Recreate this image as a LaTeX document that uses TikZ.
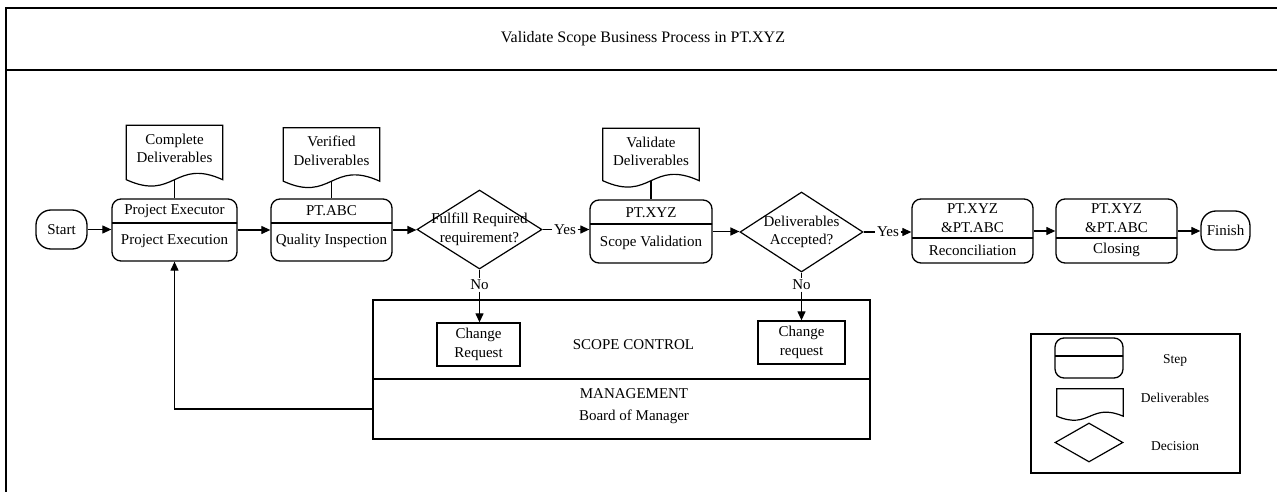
\documentclass[tikz,border=0pt]{standalone}
\usepackage{fontspec}
\setmainfont{Liberation Serif}
\usetikzlibrary{arrows.meta,shapes.geometric,calc}
\begin{document}
\begin{tikzpicture}[x=1pt,y=-1pt,
  every node/.style={font=\fontsize{15}{18.5}\selectfont, inner sep=0pt},
  box/.style={draw, line width=1.3pt, rounded corners=9pt},
  stepbox/.style={box, path picture={\draw[line width=1.3pt] (path picture bounding box.north west) ++(0,#1) -- ++(400,0);}},
  term/.style={draw, line width=1.3pt, rounded corners=15pt},
  plain/.style={draw, line width=1.3pt},
  dec/.style={draw, diamond, line width=1.2pt},
  doc/.style={minimum width=96pt, minimum height=46pt, align=center},
  lbl/.style={align=center, inner sep=0pt},
  conn/.style={line width=1.2pt},
  arr/.style={line width=1.2pt, -{Triangle[length=9pt,width=8pt]}},
  legtext/.style={font=\fontsize{13.5}{16}\selectfont},
  small/.style={inner sep=1.5pt}
]
\useasboundingbox (0,0) rectangle (1277,492);

% outer frame and title band
\draw[line width=2pt] (1279,8) -- (6,8) -- (6,494);
\draw[line width=1.6pt] (6,70) -- (1279,70);
\node[font=\fontsize{16}{19}\selectfont] (title) at (643,39) {Validate Scope Business Process in PT.XYZ};

% terminals
\node[term, minimum width=51pt, minimum height=39pt] (start) at (61.5,229.5) {Start};
\node[term, minimum width=49pt, minimum height=39pt] (fin) at (1225.5,230.5) {Finish};

% steps
\node[stepbox=24, minimum width=125pt, minimum height=62pt] (pe) at (174.5,230) {};
\node (pe1) at (174.5,211) {Project Executor};
\node (pe2) at (174.5,241) {Project Execution};

\node[stepbox=24, minimum width=121pt, minimum height=62pt] (qi) at (331.5,230) {};
\node (qi1) at (331.5,211) {PT.ABC};
\node (qi2) at (331.5,241) {Quality Inspection};

\node[stepbox=24, minimum width=122pt, minimum height=63pt] (sv) at (651,231.5) {};
\node (sv1) at (651,213) {PT.XYZ};
\node (sv2) at (651,243) {Scope Validation};

\node[stepbox=39, minimum width=121pt, minimum height=64pt] (rc) at (972.5,231) {};
\node[align=center] (rc1) at (972.5,218) {PT.XYZ\\\&PT.ABC};
\node (rc2) at (972.5,250) {Reconciliation};

\node[stepbox=39, minimum width=121pt, minimum height=64pt] (cl) at (1116.5,231) {};
\node[align=center] (cl1) at (1116.5,218) {PT.XYZ\\\&PT.ABC};
\node (cl2) at (1116.5,250) {Closing};

% deliverables
\node[doc] (d1) at (174.5,148.5) {Complete\\Deliverables};
\node[doc] (d2) at (331.5,151) {Verified\\Deliverables};
\node[doc] (d3) at (651,151.5) {Validate\\Deliverables};

% decisions
\node[dec, minimum width=125pt, minimum height=79pt,
      label={[lbl]center:Fulfill Required\\requirement?}] (dm1) at (479.5,229.5) {};
\node[dec, minimum width=123pt, minimum height=80pt,
      label={[lbl]center:Deliverables\\Accepted?}] (dm2) at (801.5,232) {};

\node[small] (yes1) at (565,229.5) {Yes};
\node[small] (yes2) at (888,232) {Yes};
\node[small] (no1) at (479.5,285) {No};
\node[small] (no2) at (801.5,285) {No};

% scope control / management
\node[plain, line width=1.6pt, minimum width=497pt, minimum height=79pt] (sc) at (621.5,339.5) {};
\node (sct) at (633.5,345) {SCOPE CONTROL};
\node[plain, line width=1.6pt, minimum width=497pt, minimum height=60pt] (mg) at (621.5,409) {};
\node[align=center, font=\fontsize{15}{22}\selectfont] (mgt) at (634,406) {MANAGEMENT\\Board of Manager};

\node[plain, minimum width=83pt, minimum height=43pt, align=center] (cr1) at (478.5,344.5) {Change\\Request};
\node[plain, minimum width=87pt, minimum height=43pt, align=center] (cr2) at (801.5,342.5) {Change\\request};

% legend
\node[plain, minimum width=209pt, minimum height=139pt] (leg) at (1135.5,403.5) {};
\node[stepbox=18, minimum width=68pt, minimum height=40pt] (lstep) at (1089,358) {};
\node[minimum width=66pt, minimum height=27pt] (ldoc) at (1090,402.5) {};
\node[dec, minimum width=68pt, minimum height=39pt] (ldec) at (1089,442.5) {};
\node[legtext] (lt1) at (1175,360) {Step};
\node[legtext] (lt2) at (1175,398) {Deliverables};
\node[legtext] (lt3) at (1175,446) {Decision};

% document outlines
\foreach \n/\k/\a in {d1/8/22,d2/7/22,d3/6/22,ldoc/0/14}
  \draw[line width=1.2pt] (\n.north west) -- ($(\n.south west)+(0,\k)$)
    .. controls ($(\n.south)+(0,\k+\a)$) and ($(\n.south)+(0,\k-\a)$) ..
    ($(\n.south east)+(0,\k)$) -- (\n.north east) -- cycle;

% deliverable links
\draw[conn] ($(d1.south)+(0,8)$) -- (pe.north);
\draw[conn] ($(d2.south)+(0,7)$) -- (qi.north);
\draw[conn] ($(d3.south)+(0,6)$) -- (sv.north);

% main flow
\draw[arr] (start.east) -- (start.east -| pe.west);
\draw[arr] (pe.east) -- (pe.east -| qi.west);
\draw[arr] (qi.east) -- (qi.east -| dm1.west);
\draw[conn] (dm1.east) -- (yes1.west);
\draw[arr] (yes1.east) -- (yes1.east -| sv.west);
\draw[arr] (sv.east) -- (sv.east -| dm2.west);
\draw[conn] (dm2.east) -- (yes2.west);
\draw[arr] (yes2.east) -- (yes2.east -| rc.west);
\draw[arr] (rc.east) -- (rc.east -| cl.west);
\draw[arr] (cl.east) -- (cl.east -| fin.west);

% no branches
\draw[conn] (dm1.south) -- (no1.north);
\draw[arr] (no1.south) -- (no1.south |- cr1.north);
\draw[conn] (dm2.south) -- (no2.north);
\draw[arr] (no2.south) -- (no2.south |- cr2.north);

% feedback
\draw[arr] (mg.west) -| (pe.south);
\end{tikzpicture}
\end{document}
